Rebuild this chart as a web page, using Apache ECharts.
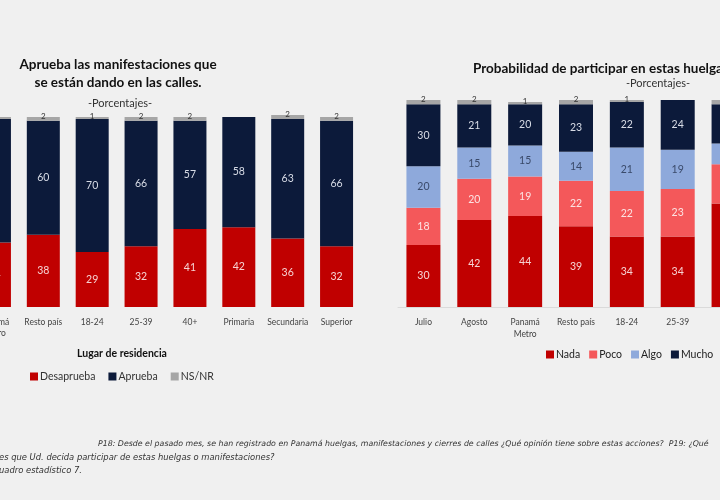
<!DOCTYPE html>
<html>
<head>
<meta charset="utf-8">
<script src="https://cdn.jsdelivr.net/npm/echarts@6/dist/echarts.min.js"></script>
<style>
html,body{margin:0;padding:0;background:#F0F0F0;overflow:hidden;width:720px;height:500px;position:relative;}
#chart{width:800px;height:500px;position:absolute;left:-30px;top:0;}
</style>
</head>
<body>
<div id="chart"></div>
<script>
// ---- Left chart data ----
var leftCategories = ['Panamá\nMetro', 'Resto país', '18-24', '25-39', '40+', 'Primaria', 'Secundaria', 'Superior'];
var desaprueba = [34, 38, 29, 32, 41, 42, 36, 32];
var aprueba = [65, 60, 70, 66, 57, 58, 63, 66];
var nsnrLeft = [1, 2, 1, 2, 2, 0, 2, 2];

// ---- Right chart data ----
var rightCategories = ['Julio', 'Agosto', 'Panamá\nMetro', 'Resto país', '18-24', '25-39', '40+'];
var nada = [30, 42, 44, 39, 34, 34, 50];
var poco = [18, 20, 19, 22, 22, 23, 19];
var algo = [20, 15, 15, 14, 21, 19, 10];
var mucho = [30, 21, 20, 23, 22, 24, 19];
var nsnrRight = [2, 2, 1, 2, 1, 0, 2];

var FONT = 'Lato, "Noto Sans", sans-serif';
var FOOT = '"DejaVu Sans", sans-serif';
var C_RED = '#C00000', C_NAVY = '#0C1A3A', C_POCO = '#F4585A', C_ALGO = '#8EA9DB', C_GRAY = '#A6A6A6';
var DX = 30; // container is shifted 30px left of the page

function inLabel(color) {
  return {
    show: true, position: 'inside', color: color, fontSize: 10.5, fontFamily: FONT,
    formatter: function (p) { return p.value ? p.value : ''; }
  };
}
function topLabel() {
  return {
    show: true, position: 'top', distance: -3, color: '#333', fontSize: 8, fontFamily: FONT,
    formatter: function (p) { return p.value ? p.value : ''; }
  };
}

var chart = echarts.init(document.getElementById('chart'), null, {renderer: 'canvas'});
var option = {
  backgroundColor: '#F0F0F0',
  animation: false,
  title: [
    {text: 'Aprueba las manifestaciones que\nse están dando en las calles.', left: 113 + DX, top: 51, textAlign: 'center',
      textStyle: {fontFamily: FONT, fontSize: 13.5, fontWeight: 'bold', color: '#111', lineHeight: 18}},
    {text: '-Porcentajes-', left: 115 + DX, top: 93, textAlign: 'center',
      textStyle: {fontFamily: FONT, fontSize: 11, fontWeight: 'normal', color: '#333'}},
    {text: 'Probabilidad de participar en estas huelgas o manifestaciones', left: 468 + DX, top: 57,
      textStyle: {fontFamily: FONT, fontSize: 13.5, fontWeight: 'bold', color: '#111'}},
    {text: '-Porcentajes-', left: 653 + DX, top: 73, textAlign: 'center',
      textStyle: {fontFamily: FONT, fontSize: 11, fontWeight: 'normal', color: '#333'}},
    {text: 'Lugar de residencia', left: 117 + DX, top: 343, textAlign: 'center',
      textStyle: {fontFamily: FONT, fontSize: 10.5, fontWeight: 'bold', color: '#111'}}
  ],
  legend: [
    {data: ['Desaprueba', 'Aprueba', 'NS/NR'], left: 25 + DX, top: 366, itemWidth: 8, itemHeight: 8, itemGap: 13,
      icon: 'rect', textStyle: {fontFamily: FONT, fontSize: 10.5, color: '#333', padding: [0, 0, 0, -3]}},
    {data: ['Nada', 'Poco', 'Algo', 'Mucho'], left: 541 + DX, top: 344, itemWidth: 8, itemHeight: 8, itemGap: 9,
      icon: 'rect', textStyle: {fontFamily: FONT, fontSize: 10.5, color: '#222', padding: [0, 0, 0, -3]}}
  ],
  grid: [
    {left: -30 + DX, width: 391, top: 113.2, bottom: 193},
    {left: 398 + DX, width: 356, top: 100, bottom: 193}
  ],
  xAxis: [
    {type: 'category', gridIndex: 0, data: leftCategories,
      axisLine: {show: false}, axisTick: {show: false},
      axisLabel: {fontFamily: FONT, fontSize: 8.5, color: '#444', margin: 10, interval: 0, lineHeight: 11}},
    {type: 'category', gridIndex: 1, data: rightCategories,
      axisLine: {show: true, lineStyle: {color: '#DADADA'}}, axisTick: {show: false},
      axisLabel: {fontFamily: FONT, fontSize: 8.5, color: '#444', margin: 9, interval: 0, lineHeight: 12}}
  ],
  yAxis: [
    {type: 'value', gridIndex: 0, min: 0, max: 102, show: false, splitLine: {show: false}},
    {type: 'value', gridIndex: 1, min: 0, max: 100, show: false, splitLine: {show: false}}
  ],
  series: [
    {name: 'Desaprueba', type: 'bar', stack: 'L', xAxisIndex: 0, yAxisIndex: 0, barWidth: 33,
      data: desaprueba, itemStyle: {color: C_RED}, label: inLabel('#F6D3D3')},
    {name: 'Aprueba', type: 'bar', stack: 'L', xAxisIndex: 0, yAxisIndex: 0, barWidth: 33,
      data: aprueba, itemStyle: {color: C_NAVY}, label: inLabel('#D8DCE6')},
    {name: 'NS/NR', type: 'bar', stack: 'L', xAxisIndex: 0, yAxisIndex: 0, barWidth: 33,
      data: nsnrLeft, itemStyle: {color: C_GRAY}, label: topLabel()},

    {name: 'Nada', type: 'bar', stack: 'R', xAxisIndex: 1, yAxisIndex: 1, barWidth: 34,
      data: nada, itemStyle: {color: C_RED}, label: inLabel('#F6D3D3')},
    {name: 'Poco', type: 'bar', stack: 'R', xAxisIndex: 1, yAxisIndex: 1, barWidth: 34,
      data: poco, itemStyle: {color: C_POCO}, label: inLabel('#FCE3E3')},
    {name: 'Algo', type: 'bar', stack: 'R', xAxisIndex: 1, yAxisIndex: 1, barWidth: 34,
      data: algo, itemStyle: {color: C_ALGO}, label: inLabel('#3A4A6A')},
    {name: 'Mucho', type: 'bar', stack: 'R', xAxisIndex: 1, yAxisIndex: 1, barWidth: 34,
      data: mucho, itemStyle: {color: C_NAVY}, label: inLabel('#D8DCE6')},
    {name: 'NS/NR ', type: 'bar', stack: 'R', xAxisIndex: 1, yAxisIndex: 1, barWidth: 34,
      data: nsnrRight, itemStyle: {color: C_GRAY}, label: topLabel()}
  ],
  graphic: [
    {type: 'text', left: 98 + DX, top: 440, style: {text: 'P18: Desde el pasado mes, se han registrado en Panamá huelgas, manifestaciones y cierres de calles ¿Qué opinión tiene sobre estas acciones?  P19: ¿Qué',
      font: 'italic 7.85px ' + FOOT, fill: '#333'}},
    {type: 'text', left: -1 + DX, top: 454, style: {text: 'es que Ud. decida participar de estas huelgas o manifestaciones?',
      font: 'italic 8.4px ' + FOOT, fill: '#333'}},
    {type: 'text', left: -1 + DX, top: 467, style: {text: 'uadro estadístico 7.',
      font: 'italic 8.4px ' + FOOT, fill: '#333'}}
  ]
};
chart.setOption(option);
</script>
</body>
</html>
